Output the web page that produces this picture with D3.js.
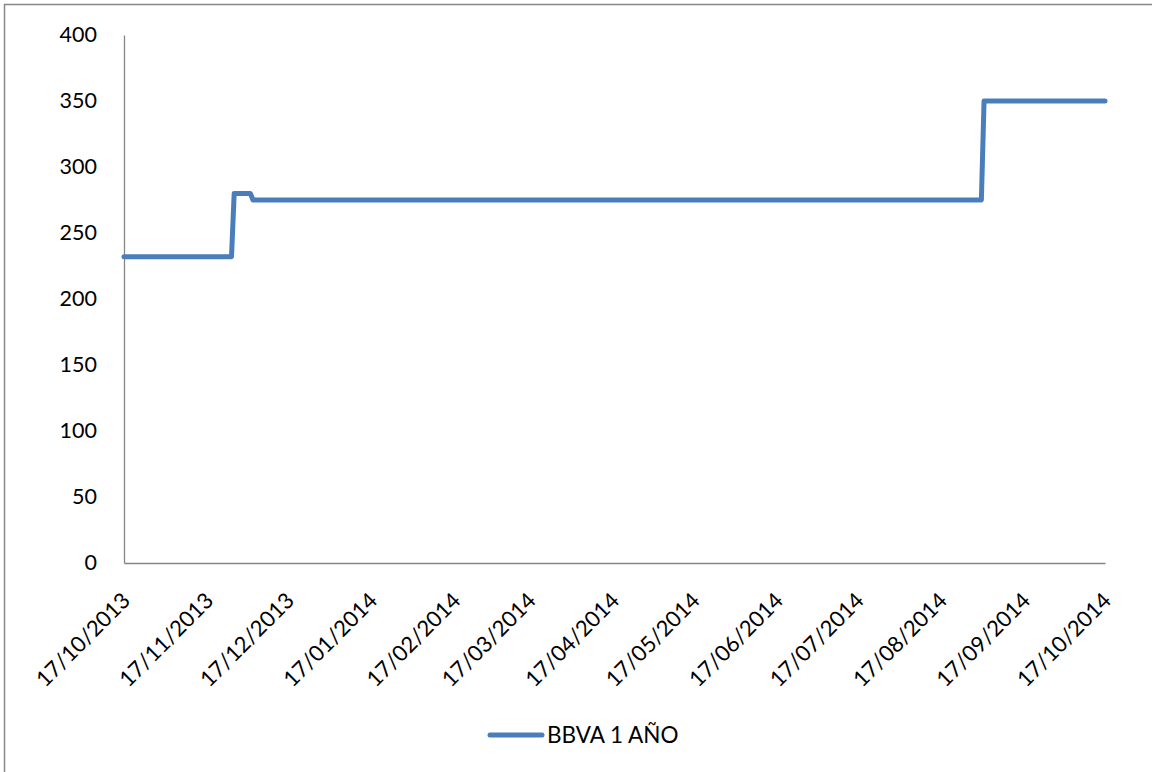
<!DOCTYPE html>
<html>
<head>
<meta charset="utf-8">
<script src="https://cdn.jsdelivr.net/npm/d3@7/dist/d3.min.js"></script>
<style>
  html, body { margin: 0; padding: 0; background: #fff; }
  svg { display: block; }
  text { font-family: Lato, "Open Sans", "Liberation Sans", sans-serif; fill: #000; }
</style>
</head>
<body>
<svg id="chart" width="1152" height="772"></svg>
<script>
// Change points of the series (day before and day of each change)
const seriesName = "BBVA 1 AÑO";
const pointDates = ["17/10/2013", "26/11/2013", "27/11/2013", "03/12/2013", "04/12/2013", "01/09/2014", "02/09/2014", "17/10/2014"];
const pointValues = [232, 232, 280, 280, 275, 275, 350, 350];
const xTickLabels = ["17/10/2013", "17/11/2013", "17/12/2013", "17/01/2014", "17/02/2014", "17/03/2014",
  "17/04/2014", "17/05/2014", "17/06/2014", "17/07/2014", "17/08/2014", "17/09/2014", "17/10/2014"];
const yTicks = [0, 50, 100, 150, 200, 250, 300, 350, 400];

const parse = d3.timeParse("%d/%m/%Y");
const data = pointDates.map((d, i) => ({ date: parse(d), value: pointValues[i] }));
const tickDates = xTickLabels.map(parse);

const svg = d3.select("#chart");
const W = 1152, H = 772;
const plot = { left: 124, right: 1105, top: 35, bottom: 563 };

// Outer chart frame (left and top edges visible)
svg.append("path")
  .attr("d", `M4.5,${H} V4.5 H${W}`)
  .attr("fill", "none")
  .attr("stroke", "#888")
  .attr("stroke-width", 1.5);

const x = d3.scaleTime()
  .domain([tickDates[0], tickDates[tickDates.length - 1]])
  .range([plot.left, plot.right]);
const y = d3.scaleLinear().domain([0, 400]).range([plot.bottom, plot.top]);

// Y axis
const yAxis = svg.append("g")
  .attr("transform", `translate(${plot.left},0)`)
  .call(d3.axisLeft(y).tickValues(yTicks).tickSize(0).tickPadding(27).tickFormat(d3.format("d")));
yAxis.select(".domain").attr("stroke", "#868686").attr("stroke-width", 1.3);
yAxis.selectAll("text").style("font-size", "21.5px").attr("fill", "#000");

// X axis
const xAxis = svg.append("g")
  .attr("transform", `translate(0,${plot.bottom})`)
  .call(d3.axisBottom(x).tickValues(tickDates).tickSize(0).tickFormat(d3.timeFormat("%d/%m/%Y")));
xAxis.select(".domain").attr("stroke", "#868686").attr("stroke-width", 1.3);
xAxis.selectAll("text")
  .style("font-size", "22px")
  .attr("fill", "#000")
  .attr("text-anchor", "end")
  .attr("dy", null)
  .attr("y", 0)
  .attr("transform", "translate(7,39) rotate(-45)");

// Series line
const line = d3.line().x(d => x(d.date)).y(d => y(d.value));
svg.append("path")
  .datum(data)
  .attr("d", line)
  .attr("fill", "none")
  .attr("stroke", "#4a7ebb")
  .attr("stroke-width", 5)
  .attr("stroke-linejoin", "round")
  .attr("stroke-linecap", "round");

// Legend
const lg = svg.append("g").attr("transform", "translate(490,735)");
lg.append("line")
  .attr("x1", 0).attr("x2", 52).attr("y1", 0).attr("y2", 0)
  .attr("stroke", "#4a7ebb").attr("stroke-width", 5).attr("stroke-linecap", "round");
lg.append("text")
  .attr("x", 57).attr("y", 8)
  .style("font-size", "22.5px")
  .text(seriesName);
</script>
</body>
</html>
